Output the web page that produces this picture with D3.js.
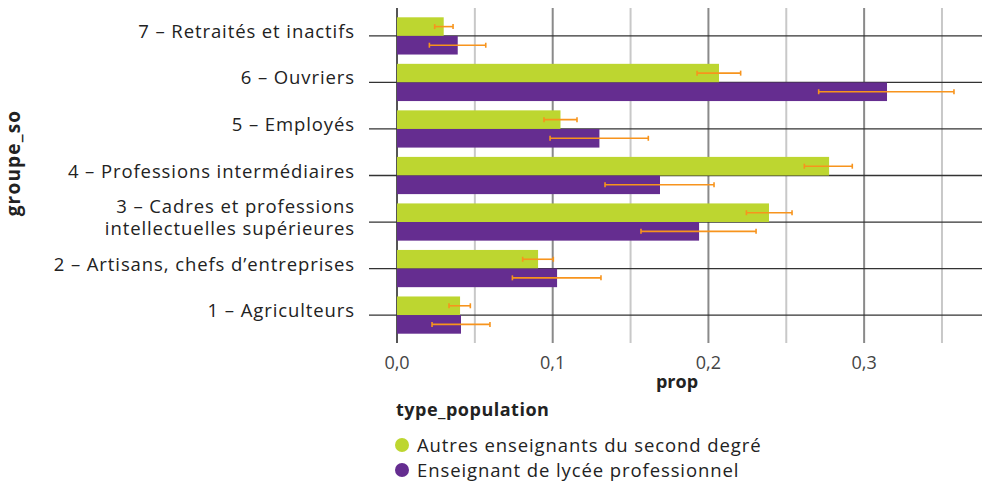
<!DOCTYPE html>
<html>
<head>
<meta charset="utf-8">
<script src="https://cdn.jsdelivr.net/npm/d3@7"></script>
<style>
  body { margin: 0; background: #fff; }
  svg { display: block; font-family: "Open Sans", Roboto, sans-serif; }
</style>
</head>
<body>
<svg width="982" height="483"></svg>
<script>
const categories = [
  '1 – Agriculteurs',
  '2 – Artisans, chefs d’entreprises',
  '3 – Cadres et professions\nintellectuelles supérieures',
  '4 – Professions intermédiaires',
  '5 – Employés',
  '6 – Ouvriers',
  '7 – Retraités et inactifs'
];
const seriesNames = ['Autres enseignants du second degré', 'Enseignant de lycée professionnel'];
const autres = [0.0405, 0.0906, 0.2389, 0.2775, 0.105, 0.2068, 0.030];
const autresLow = [0.0334, 0.0807, 0.2244, 0.2616, 0.0944, 0.1927, 0.0242];
const autresHigh = [0.0471, 0.1004, 0.2537, 0.2924, 0.1156, 0.2207, 0.036];
const lp = [0.0411, 0.1028, 0.194, 0.1689, 0.130, 0.3147, 0.039];
const lpLow = [0.0225, 0.0741, 0.1567, 0.1336, 0.0983, 0.2708, 0.0208];
const lpHigh = [0.0597, 0.131, 0.2306, 0.2036, 0.1614, 0.3577, 0.057];
const xTicks = [0, 0.1, 0.2, 0.3];
const xMinor = [0.05, 0.15, 0.25, 0.35];

const colors = ['#bdd630', '#652d90'];
const errColor = '#f7941d';

const svg = d3.select('svg');
const pLeft = 397, pRight = 982, pTop = 8, pBottom = 343;

const x = d3.scaleLinear().domain([0, 0.3757]).range([pLeft, pRight]);
const y = d3.scaleBand().domain(categories.slice().reverse()).range([pTop, pBottom])
  .paddingInner(0).paddingOuter(0.1);
const sub = d3.scaleBand().domain([0, 1]).range([0, y.bandwidth() * 0.8]);

// grid
svg.selectAll('line.minor').data(xMinor).enter().append('line')
  .attr('x1', d => x(d)).attr('x2', d => x(d))
  .attr('y1', pTop).attr('y2', pBottom)
  .attr('stroke', '#c8c8c8').attr('stroke-width', 2);
svg.selectAll('line.major').data(xTicks).enter().append('line')
  .attr('x1', d => x(d)).attr('x2', d => x(d))
  .attr('y1', pTop).attr('y2', pBottom)
  .attr('stroke', d => d === 0 ? '#555' : '#8a8a8a').attr('stroke-width', 2);
svg.selectAll('line.hgrid').data(categories).enter().append('line')
  .attr('x1', 369).attr('x2', pRight)
  .attr('y1', d => y(d) + y.bandwidth() / 2).attr('y2', d => y(d) + y.bandwidth() / 2)
  .attr('stroke', '#333').attr('stroke-width', 1.3);

// bars
const rows = categories.map((c, i) => ({
  cat: c,
  vals: [
    { s: 0, v: autres[i], lo: autresLow[i], hi: autresHigh[i] },
    { s: 1, v: lp[i], lo: lpLow[i], hi: lpHigh[i] }
  ]
}));

const g = svg.selectAll('g.grp').data(rows).enter().append('g')
  .attr('transform', d => `translate(0,${y(d.cat) + y.bandwidth() * 0.1})`);

g.selectAll('rect').data(d => d.vals).enter().append('rect')
  .attr('x', x(0)).attr('y', d => sub(d.s))
  .attr('width', d => x(d.v) - x(0)).attr('height', sub.bandwidth())
  .attr('fill', d => colors[d.s]);

const eb = g.selectAll('g.eb').data(d => d.vals).enter().append('g')
  .attr('stroke', errColor).attr('stroke-width', 1.6);
eb.append('line')
  .attr('x1', d => x(d.lo)).attr('x2', d => x(d.hi))
  .attr('y1', d => sub(d.s) + sub.bandwidth() / 2).attr('y2', d => sub(d.s) + sub.bandwidth() / 2);
eb.append('line')
  .attr('x1', d => x(d.lo)).attr('x2', d => x(d.lo))
  .attr('y1', d => sub(d.s) + sub.bandwidth() / 2 - 2.5).attr('y2', d => sub(d.s) + sub.bandwidth() / 2 + 2.5);
eb.append('line')
  .attr('x1', d => x(d.hi)).attr('x2', d => x(d.hi))
  .attr('y1', d => sub(d.s) + sub.bandwidth() / 2 - 2.5).attr('y2', d => sub(d.s) + sub.bandwidth() / 2 + 2.5);

// y labels (one text per line)
const labelLines = [];
categories.forEach(d => {
  const lines = d.split('\n');
  lines.forEach((ln, k) => labelLines.push({ cat: d, text: ln, off: k - (lines.length - 1) / 2 }));
});
svg.selectAll('text.ylab').data(labelLines).enter().append('text')
  .attr('x', 355)
  .attr('y', d => y(d.cat) + y.bandwidth() / 2 + 2 + d.off * 22)
  .attr('text-anchor', 'end').attr('fill', '#222')
  .attr('font-size', '18.5px').attr('letter-spacing', '0.9px')
  .text(d => d.text);

// x tick labels
svg.selectAll('text.xlab').data(xTicks).enter().append('text')
  .attr('x', d => x(d)).attr('y', 369)
  .attr('text-anchor', 'middle').attr('fill', '#444').attr('font-size', '18px')
  .text(d => d3.format('.1f')(d).replace('.', ','));

svg.append('text').attr('x', 677).attr('y', 388)
  .attr('text-anchor', 'middle').attr('font-weight', 'bold').attr('font-size', '18px')
  .attr('fill', '#222').text('prop');

svg.append('text').attr('transform', 'translate(20,163) rotate(-90)')
  .attr('text-anchor', 'middle').attr('font-weight', 'bold').attr('font-size', '19px')
  .attr('letter-spacing', '1.2px').attr('fill', '#222').text('groupe_so');

// legend
svg.append('text').attr('x', 396).attr('y', 416)
  .attr('font-weight', 'bold').attr('font-size', '18px').attr('letter-spacing', '0.5px')
  .attr('fill', '#222').text('type_population');

const leg = svg.selectAll('g.leg').data(seriesNames).enter().append('g')
  .attr('transform', (d, i) => `translate(402,${445 + i * 25})`);
leg.append('circle').attr('r', 7).attr('fill', (d, i) => colors[i]);
leg.append('text').attr('x', 15).attr('y', 7)
  .attr('font-size', '18.5px').attr('letter-spacing', '0.9px')
  .attr('fill', '#222').text(d => d);
</script>
</body>
</html>
